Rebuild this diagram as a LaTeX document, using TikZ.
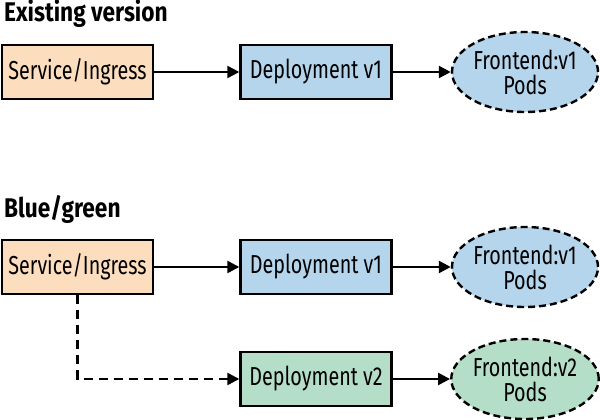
\documentclass[tikz,border=0pt]{standalone}
\usepackage{fontspec}
\setmainfont[FakeStretch=0.76]{Fira Sans}
\newfontfamily\headfont[FakeStretch=0.84]{Fira Sans}
\usepackage{tikz}
\usetikzlibrary{arrows.meta,shapes.geometric}
\definecolor{svcorange}{RGB}{252,222,190}
\definecolor{depblue}{RGB}{180,213,235}
\definecolor{depgreen}{RGB}{180,222,200}

\begin{document}
\begin{tikzpicture}[->,>={Triangle[length=12pt,width=12pt]},x=1pt,y=-1pt,line width=2.4pt,
		font=\fontsize{26}{25}\selectfont]
		\tikzstyle{box}=[rectangle,draw,minimum width=151pt,minimum height=54pt,inner sep=2pt]
		\tikzstyle{pods}=[ellipse,draw,dash pattern=on 7pt off 4pt,minimum width=146pt,minimum height=80pt,inner sep=0pt,align=center]
		\tikzstyle{heading}=[anchor=base west,font=\fontsize{27}{28}\selectfont\headfont\bfseries,inner sep=0pt]
		
		\useasboundingbox (0,0) rectangle (600,420);
		
		\node[heading] (title1) at (3,22) {Existing version};
		\node[box,fill=svcorange] (svc1) at (77.5,72) {Service/Ingress};
		\node[box,fill=depblue] (dep1) [right of=svc1,node distance=238.5pt] {Deployment v1};
		\node[pods,fill=depblue] (pod1) [right of=dep1,node distance=209pt] {Frontend:v1\\Pods};
		
		\node[heading] (title2) at (3,217) {Blue/green};
		\node[box,fill=svcorange] (svc2) [below of=svc1,node distance=195pt] {Service/Ingress};
		\node[box,fill=depblue] (dep2) [right of=svc2,node distance=238.5pt] {Deployment v1};
		\node[pods,fill=depblue] (pod2) [right of=dep2,node distance=209pt] {Frontend:v1\\Pods};
		\node[box,fill=depgreen] (dep3) [below of=dep2,node distance=112pt] {Deployment v2};
		\node[pods,fill=depgreen] (pod3) [right of=dep3,node distance=209pt] {Frontend:v2\\Pods};
		
		\path (svc1) edge (dep1)
		(dep1) edge (pod1)
		(svc2) edge (dep2)
		(dep2) edge (pod2)
		(dep3) edge (pod3);
		\draw[dash pattern=on 9pt off 6pt] (svc2) |- (dep3);
\end{tikzpicture}
\end{document}
